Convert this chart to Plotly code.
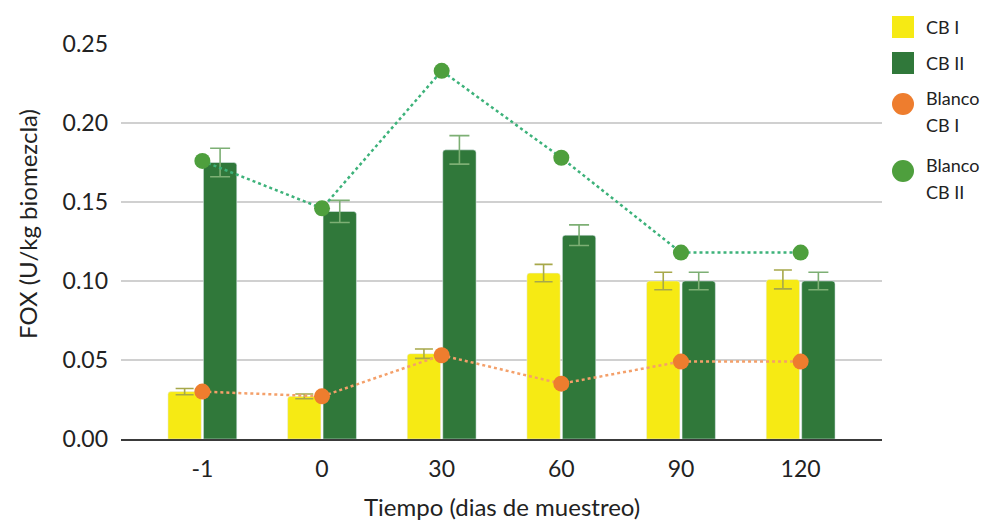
import plotly.graph_objects as go

# Sampling days
dias = ["-1", "0", "30", "60", "90", "120"]

# FOX activity (U/kg biomezcla)
cb1 = [0.030, 0.027, 0.054, 0.105, 0.100, 0.101]
cb1_err = [0.002, 0.0015, 0.003, 0.0055, 0.0055, 0.006]
cb2 = [0.175, 0.144, 0.183, 0.129, 0.100, 0.100]
cb2_err = [0.009, 0.007, 0.009, 0.0065, 0.0055, 0.0055]
blanco_cb1 = [0.030, 0.027, 0.053, 0.035, 0.049, 0.049]
blanco_cb2 = [0.176, 0.146, 0.233, 0.178, 0.118, 0.118]

y_ticks = [0.00, 0.05, 0.10, 0.15, 0.20, 0.25]

YELLOW = "#F6EA14"
DKGREEN = "#30783A"
ORANGE = "#EE7D2E"
LTGREEN = "#4E9F3D"
FONT = "Lato"
TXT = "#222222"

W, H = 986, 523
L, R, T, B = 121, 104, 44, 84
PW, PH = W - L - R, H - T - B


def px(x):
    return (x - L) / PW


def py(y):
    return (H - B - y) / PH


idx = list(range(len(dias)))

fig = go.Figure()
fig.add_bar(x=idx, y=cb1, marker_color=YELLOW, name="CB I",
            error_y=dict(type="data", array=cb1_err, color="#A7A84A",
                         thickness=1.6, width=9))
fig.add_bar(x=idx, y=cb2, marker_color=DKGREEN, name="CB II",
            error_y=dict(type="data", array=cb2_err, color="#7DAF74",
                         thickness=1.6, width=10))
fig.add_scatter(x=idx, y=blanco_cb1, mode="lines+markers", name="Blanco CB I",
                line=dict(color="#F4A06A", width=2.5, dash="dot"),
                marker=dict(color=ORANGE, size=16))
fig.add_scatter(x=idx, y=blanco_cb2, mode="lines+markers", name="Blanco CB II",
                line=dict(color="#3DB27A", width=2.5, dash="dot"),
                marker=dict(color=LTGREEN, size=16))

# Legend drawn at the right side
legend_items = [
    ("rect", YELLOW, 27, ["CB I"]),
    ("rect", DKGREEN, 63, ["CB II"]),
    ("circle", ORANGE, 104, ["Blanco", "CB I"]),
    ("circle", LTGREEN, 171, ["Blanco", "CB II"]),
]
shapes = []
annotations = []
for kind, col, yc, lines in legend_items:
    shapes.append(dict(type=kind, xref="paper", yref="paper",
                       x0=px(892), x1=px(914), y0=py(yc + 11), y1=py(yc - 11),
                       fillcolor=col, line=dict(width=0)))
    for k, t in enumerate(lines):
        ty = yc - 6 + k * 27 if len(lines) > 1 else yc
        annotations.append(dict(text=t, xref="paper", yref="paper",
                                x=px(924), y=py(ty),
                                xanchor="left", yanchor="middle", showarrow=False,
                                font=dict(family=FONT, size=18, color=TXT)))

# Axis titles
annotations.append(dict(text="FOX (U/kg biomezcla)", xref="paper", yref="paper",
                        x=px(27), y=py(224), textangle=-90,
                        xanchor="center", yanchor="middle", showarrow=False,
                        font=dict(family=FONT, size=24, color=TXT)))
annotations.append(dict(text="Tiempo (dias de muestreo)", xref="paper", yref="paper",
                        x=px(502), y=py(506),
                        xanchor="center", yanchor="middle", showarrow=False,
                        font=dict(family=FONT, size=24, color=TXT)))

fig.update_layout(
    width=W, height=H,
    margin=dict(l=L, r=R, t=T, b=B),
    paper_bgcolor="white", plot_bgcolor="white",
    barmode="group", bargap=0.407, bargroupgap=0.06, barcornerradius=3,
    showlegend=False,
    font=dict(family=FONT, size=23, color=TXT),
    shapes=shapes, annotations=annotations,
    xaxis=dict(tickvals=idx, ticktext=dias, range=[-0.68, 5.68],
               showgrid=False, showline=True, linecolor="#3a3a3a", linewidth=2,
               ticks="", ticklen=0, ticklabelstandoff=8),
    yaxis=dict(range=[0, 0.25], tickvals=y_ticks, tickformat=".2f",
               showgrid=True, gridcolor="#D0D0D0", gridwidth=1.5,
               zeroline=False, showline=False, ticks="", ticklabelstandoff=12),
)

fig.write_html("out.html")
